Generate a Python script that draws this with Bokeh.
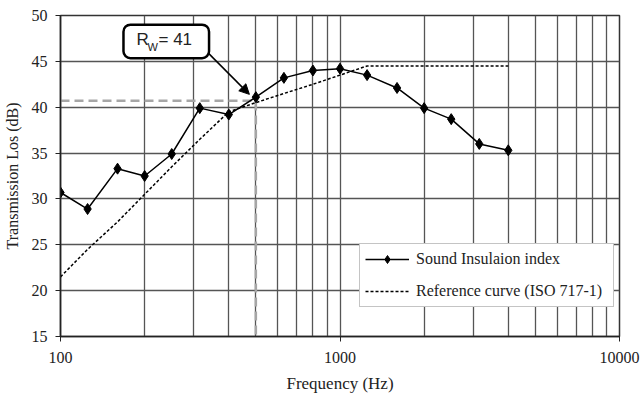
from bokeh.plotting import figure
from bokeh.models import (FixedTicker, Legend, LegendItem, BoxAnnotation, Label,
                          Arrow, NormalHead, Range1d)
from bokeh.embed import file_html
from bokeh.resources import INLINE

# ---- data ----
freq = [100, 125, 160, 200, 250, 315, 400, 500, 630, 800, 1000, 1250, 1600, 2000, 2500, 3150, 4000]
sound_insulation = [30.7, 28.9, 33.3, 32.5, 34.9, 39.9, 39.2, 41.1, 43.2, 44.0, 44.2, 43.5, 42.1, 39.9, 38.7, 36.0, 35.3]
reference_curve = [21.5, 24.5, 27.5, 30.5, 33.5, 36.5, 39.5, 40.5, 41.5, 42.5, 43.5, 44.5, 44.5, 44.5, 44.5, 44.5, 44.5]
rw_freq = 500
rw_level = 40.7
x_major_ticks = [100, 1000, 10000]
x_minor_ticks = [200, 300, 400, 500, 600, 700, 800, 900, 2000, 3000, 4000, 5000, 6000, 7000, 8000, 9000]
y_ticks = [15, 20, 25, 30, 35, 40, 45, 50]

SERIF = "Liberation Serif"
SANS = "Liberation Sans"
GRID = "#555555"

p = figure(width=641, height=395, x_axis_type="log", output_backend="svg",
           toolbar_location=None, x_range=Range1d(100, 10000), y_range=Range1d(15, 50),
           min_border_left=60, min_border_right=22, min_border_top=15, min_border_bottom=57)
p.background_fill_color = "white"
p.border_fill_color = "white"
p.outline_line_color = "#333333"
p.outline_line_width = 1.5

# axes
p.xaxis.ticker = FixedTicker(ticks=x_major_ticks, minor_ticks=x_minor_ticks)
p.xaxis.major_label_overrides = {t: str(t) for t in x_major_ticks}
p.yaxis.ticker = FixedTicker(ticks=y_ticks)
for ax in (p.xaxis[0], p.yaxis[0]):
    ax.axis_line_color = "#222222"
    ax.axis_line_width = 1.5
    ax.major_tick_line_color = "#222222"
    ax.major_tick_in = 0
    ax.major_tick_out = 5
    ax.minor_tick_line_color = None
    ax.major_label_text_font = SERIF
    ax.major_label_text_font_size = "16px"
    ax.major_label_text_color = "#222222"
    ax.axis_label_text_font = SERIF
    ax.axis_label_text_font_style = "normal"
    ax.axis_label_text_color = "#222222"
p.xaxis.axis_label = "Frequency (Hz)"
p.yaxis.axis_label = "Transmission Los (dB)"
p.xaxis.axis_label_text_font_size = "17px"
p.yaxis.axis_label_text_font_size = "16px"
p.xaxis.major_label_standoff = 10
p.yaxis.major_label_standoff = 8
p.xaxis.axis_label_standoff = 8
p.yaxis.axis_label_standoff = 8

# grid
p.xgrid.grid_line_color = GRID
p.xgrid.grid_line_width = 1.3
p.xgrid.minor_grid_line_color = GRID
p.xgrid.minor_grid_line_width = 1.3
p.ygrid.grid_line_color = GRID
p.ygrid.grid_line_width = 1.3

# Rw helper lines
p.line([freq[0], rw_freq, rw_freq], [rw_level, rw_level, 15], line_color="#a6a6a6",
       line_width=2.5, line_dash="9 5")

# reference curve
r_ref = p.line(freq, reference_curve, line_color="black", line_width=1.5, line_dash="3 2")

# measured
r_line = p.line(freq, sound_insulation, line_color="black", line_width=1.5)
r_pts = p.scatter(freq, sound_insulation, marker="diamond", size=11, fill_color="black",
                  line_color="black")

legend = Legend(items=[LegendItem(label="Sound Insulaion index", renderers=[r_line, r_pts]),
                       LegendItem(label="Reference curve (ISO 717-1)", renderers=[r_ref])],
                location=(299, 29), orientation="vertical")
legend.label_text_font = SERIF
legend.label_text_font_size = "16px"
legend.label_text_color = "#222222"
legend.glyph_width = 44
legend.glyph_height = 20
legend.label_width = 192
legend.label_standoff = 7
legend.padding = 5
legend.spacing = 12
legend.margin = 0
legend.border_line_color = "#8a8a8a"
legend.border_line_width = 1
legend.background_fill_color = "white"
legend.background_fill_alpha = 1
p.add_layout(legend)

# Rw annotation box
box = BoxAnnotation(left=168, right=340, top=49.0, bottom=45.35, fill_color="white",
                    fill_alpha=1, line_color="black", line_alpha=1, line_width=2.5,
                    border_radius=7)
p.add_layout(box)
p.add_layout(Label(x=187, y=46.3, text="R", text_font=SANS,
                   text_font_size="17px", text_color="#222222"))
p.add_layout(Label(x=187, y=46.3, x_offset=11, y_offset=-4, text="W", text_font=SANS,
                   text_font_size="11px", text_color="#222222"))
p.add_layout(Label(x=187, y=46.3, x_offset=22, text="= 41", text_font=SANS,
                   text_font_size="17px", text_color="#222222"))
p.add_layout(Arrow(x_start=338, y_start=45.9, x_end=474, y_end=41.4, line_color="black",
                   line_width=1.5, end=NormalHead(size=10, fill_color="black", line_color="black")))

open("out.html", "w").write(file_html(p, INLINE))
